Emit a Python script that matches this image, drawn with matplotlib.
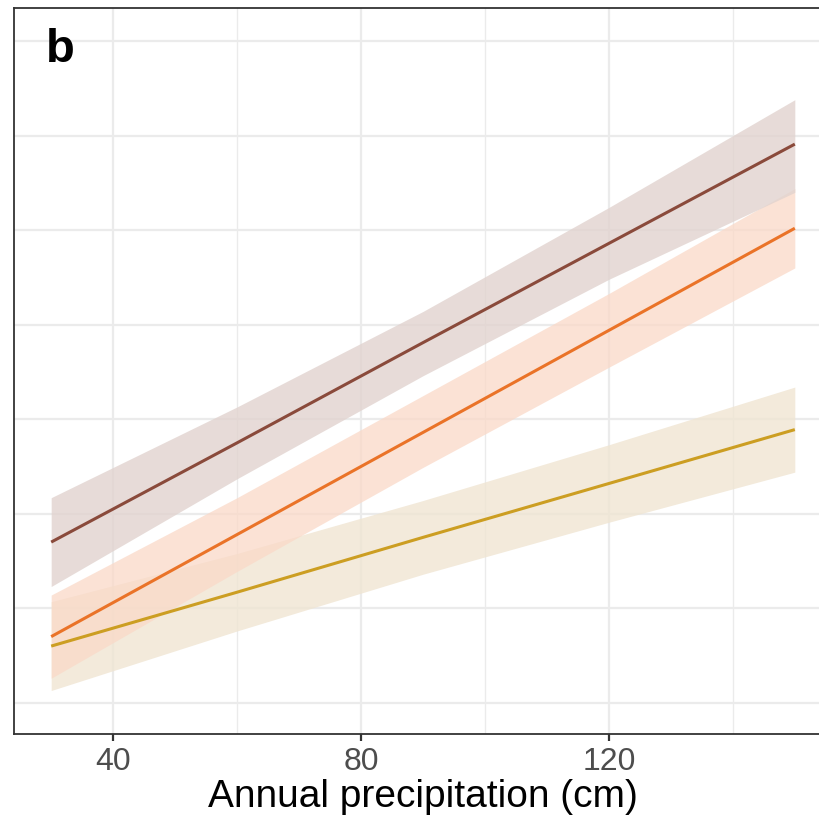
import numpy as np
import matplotlib
matplotlib.use("Agg")
import matplotlib.pyplot as plt
from matplotlib.ticker import MultipleLocator

plt.rcParams['font.family'] = ['Liberation Sans', 'DejaVu Sans']

# fitted lines and confidence ribbons, read at five precipitation values
precip = [30, 60, 90, 120, 150]
brown_fit = [1.70, 2.75, 3.81, 4.86, 5.91]
brown_lo = [1.23, 2.37, 3.46, 4.48, 5.40]
brown_hi = [2.17, 3.13, 4.14, 5.24, 6.38]
orange_fit = [0.70, 1.78, 2.86, 3.94, 5.02]
orange_lo = [0.26, 1.39, 2.49, 3.55, 4.60]
orange_hi = [1.14, 2.17, 3.25, 4.33, 5.44]
gold_fit = [0.60, 1.17, 1.75, 2.32, 2.89]
gold_lo = [0.13, 0.76, 1.36, 1.91, 2.44]
gold_hi = [1.07, 1.58, 2.14, 2.73, 3.34]

xticks = [40, 80, 120]

fig = plt.figure(figsize=(8.19, 8.34), dpi=100)
ax = fig.add_axes([14 / 819, 100 / 834, 818 / 819, 726 / 834])

# (fit, lower, upper, line colour, ribbon colour, ribbon alpha)
series = [
    (gold_fit, gold_lo, gold_hi, "#cc9e22", "#f0e5d2", 0.8),
    (orange_fit, orange_lo, orange_hi, "#ea7328", "#fad9c8", 0.75),
    (brown_fit, brown_lo, brown_hi, "#8a4a3b", "#e1d3cf", 0.8),
]
# ribbons first, then the fitted lines on top
for fit, lo, hi, col, fill, a in series:
    ax.fill_between(precip, lo, hi, color=fill, alpha=a, lw=0, zorder=2)
for fit, lo, hi, col, fill, a in series:
    ax.plot(precip, fit, color=col, lw=2.2, solid_capstyle="butt", zorder=3)

ax.set_xlim(24, 156)
ax.set_ylim(-0.33, 7.35)

ax.set_xticks(xticks)
ax.xaxis.set_minor_locator(MultipleLocator(20))
ax.yaxis.set_major_locator(MultipleLocator(1))
ax.set_yticklabels([])
ax.tick_params(axis="y", length=0)
ax.tick_params(axis="x", which="major", length=5, width=1.6, color="#333333",
               labelsize=23, labelcolor="#4d4d4d", pad=4)
ax.tick_params(axis="x", which="minor", length=0)

ax.grid(True, which="major", color="#ebebeb", lw=1.6, zorder=0)
ax.grid(True, which="minor", axis="x", color="#ebebeb", lw=1.0, zorder=0)
ax.set_axisbelow(True)
for sp in ax.spines.values():
    sp.set_color("#333333")
    sp.set_linewidth(1.3)

ax.set_xlabel("Annual precipitation (cm)", fontsize=28, color="black", labelpad=2)
ax.text(0.039, 0.972, "b", transform=ax.transAxes, fontsize=34, fontweight="bold",
        va="top", ha="left")

fig.savefig("out.png", dpi=100)
